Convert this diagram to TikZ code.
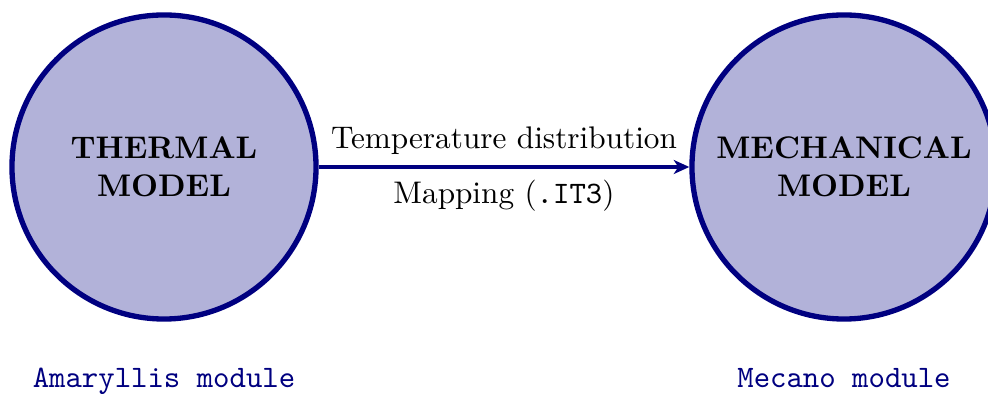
\documentclass[tikz,border=0pt]{standalone}
\usetikzlibrary{arrows.meta}
\begin{document}
\begin{tikzpicture}[x=0.32pt,y=-0.32pt,
  model/.style={circle,draw=navy,fill=navy!30,line width=1.7pt,minimum size=97.3pt,inner sep=0pt,align=center,font=\bfseries},
  modlabel/.style={text=navy,font=\ttfamily,anchor=base},
  flow/.style={draw=navy,line width=1pt,-{Stealth[length=5pt,width=4.5pt,inset=1.5pt]}}]
\definecolor{navy}{RGB}{0,0,128}
\useasboundingbox (0,0) rectangle (988,394);
\node[model] (th) at (164,167) {THERMAL\\MODEL};
\node[model] (me) at (844,167) {MECHANICAL\\MODEL};
\draw[flow] (th) -- node[above=0pt] (t1) {Temperature distribution} node[below=0.5pt] (t2) {Mapping (\texttt{.IT3})} (me);
\node[modlabel] (am) at (164,388) {Amaryllis module};
\node[modlabel] (mc) at (844,388) {Mecano module};
\end{tikzpicture}
\end{document}
